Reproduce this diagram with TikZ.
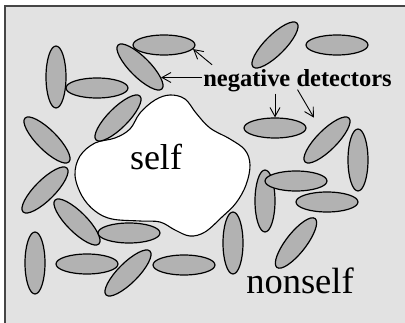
\documentclass[tikz,border=0pt]{standalone}
\usepackage{fontspec}
\setmainfont{Liberation Serif}
\usetikzlibrary{shapes.geometric,arrows.meta,calc}
\definecolor{bgGray}{RGB}{226,226,226}
\definecolor{cellGray}{RGB}{178,178,178}
\definecolor{frameGray}{RGB}{70,70,70}
\tikzset{
  detector/.style={ellipse, draw, line width=1.2pt, fill=cellGray, inner sep=0pt,
    minimum width=62pt, minimum height=20pt},
  pointer/.style={-{Straight Barb[length=9pt,width=10pt]}, line width=0.9pt},
}

\begin{document}
\begin{tikzpicture}[x=1pt, y=-1pt]
\useasboundingbox (0,0) rectangle (405,323);
% background and frame
\fill[bgGray] (5,6) rectangle (405,323);
\draw[frameGray, line width=1.8pt] (5,323) -- (5,6) -- (405,6);
% self region
\draw[fill=white, line width=1.1pt] plot[smooth cycle, tension=0.6] coordinates {
  (170,95) (185,99) (196,113) (210,128) (230,139) (245,150) (250,165) (246,185)
  (236,203) (222,217) (205,232) (190,236) (175,230) (160,222) (140,221) (112,219)
  (95,211) (82,196) (75,175) (80,156) (95,143) (115,138) (130,129) (140,113) (155,100)};
\node[font=\fontsize{36}{40}\selectfont, anchor=base] (self) at (156,170) {self};
% detectors
\foreach \n/\x/\y/\r in {1/56/77/90, 2/97/88/0, 3/164/45/0, 4/140/67/-45,
    5/47/140/-45, 6/118/118/45, 7/275/45/45, 8/337/45/0, 9/275/128/0,
    10/327/140/45, 11/358/160/90, 12/45/190/45, 13/77/222/-45, 14/129/233/0,
    15/35/263/90, 16/87/264/0, 17/128/273/45, 18/184/265/0, 19/265/201/90,
    20/296/181/0, 21/327/202/0, 22/296/243/52, 23/233/243/90}{
  \node[detector, rotate=\r] (d\n) at (\x,\y) {};
}
\node[font=\fontsize{36.5}{40}\selectfont, anchor=base] (nonself) at (300,294) {nonself};
% label and pointers
\node[font=\bfseries\fontsize{24.5}{28}\selectfont, anchor=base, inner sep=1pt] (neg) at (297.5,87) {negative detectors};
\draw[pointer] (neg.west |- d4.north east) -- (d4.north east);
\draw[pointer] ([xshift=10pt,yshift=4pt]neg.north west) -- (d3.-8);
\draw[pointer] (d9.north |- neg.south) -- (d9.north);
\draw[pointer, shorten >=15pt] ([yshift=4pt]neg.south) -- (d10);
\end{tikzpicture}
\end{document}
